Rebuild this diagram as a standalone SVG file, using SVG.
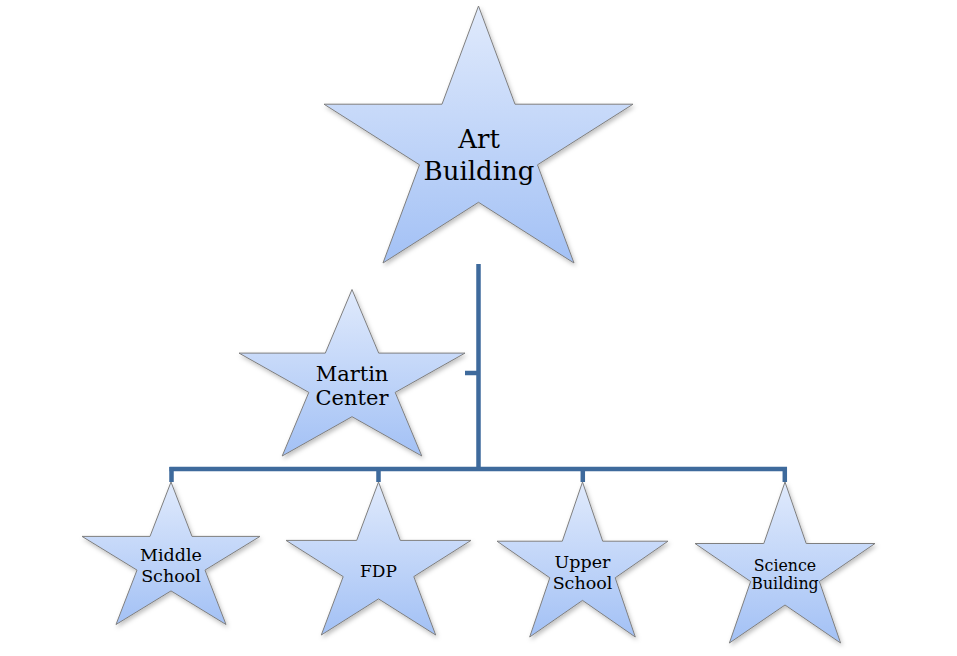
<svg xmlns="http://www.w3.org/2000/svg" width="957" height="656" viewBox="0 0 957 656">
<style>
.star{fill:url(#g);stroke:#7f7f7f;stroke-width:1;filter:url(#sh)}
.lbl{font-family:"DejaVu Serif","Liberation Serif",serif;fill:#000;text-anchor:middle}
.conn{stroke:#3e6a9c;stroke-width:4.5;fill:none;stroke-linecap:butt}
</style>
<defs>
<linearGradient id="g" x1="0" y1="0" x2="0" y2="1">
<stop offset="0" stop-color="#e0eafc"/>
<stop offset="1" stop-color="#a3c1f5"/>
</linearGradient>
<filter id="sh" x="-10%" y="-10%" width="125%" height="125%">
<feDropShadow dx="1.5" dy="2.5" stdDeviation="2" flood-color="#000" flood-opacity="0.25"/>
</filter>
</defs>
<rect width="957" height="656" fill="#fff"/>
<g id="connectors">
<path class="conn" d="M478.5 264 V469.5"/>
<path class="conn" d="M465 373 H478.5"/>
<path class="conn" d="M169.5 469 H787"/>
<path class="conn" d="M171.5 467 V482 M378.5 469 V482 M582.8 469 V482 M784.8 467 V482"/>
</g>
<g id="art-building">
<polygon class="star" points="478.5,6 515,104.2 633,104.2 537.5,164.8 574,263 478.5,202.3 383,263 419.5,164.8 324,104.2 442,104.2"/>
<text class="lbl" font-size="26" x="479" y="148">Art</text>
<text class="lbl" font-size="26" x="479" y="180">Building</text>
</g>
<g id="martin-center">
<polygon class="star" points="352,289.5 378.7,353.1 465,353.1 395.2,392.4 421.8,456 352,416.7 282.2,456 308.8,392.4 239,353.1 325.3,353.1"/>
<text class="lbl" font-size="21" x="352" y="381">Martin</text>
<text class="lbl" font-size="21" x="352" y="405">Center</text>
</g>
<g id="middle-school">
<polygon class="star" points="171,482 192,536.4 260,536.4 205,570.1 226,624.5 171,590.9 116,624.5 137,570.1 82,536.4 150,536.4"/>
<text class="lbl" font-size="17.5" x="171" y="560.5">Middle</text>
<text class="lbl" font-size="17.5" x="171" y="581.5">School</text>
</g>
<g id="fdp">
<polygon class="star" points="378.5,482 400.3,540.4 471,540.4 413.8,576.6 435.7,635 378.5,598.9 321.3,635 343.2,576.6 286,540.4 356.7,540.4"/>
<text class="lbl" font-size="17" x="378.5" y="576.5">FDP</text>
</g>
<g id="upper-school">
<polygon class="star" points="582.5,482 602.7,541.2 668,541.2 615.2,577.8 635.3,637 582.5,600.4 529.7,637 549.8,577.8 497,541.2 562.3,541.2"/>
<text class="lbl" font-size="17.5" x="582.5" y="568.3">Upper</text>
<text class="lbl" font-size="17.5" x="582.5" y="589">School</text>
</g>
<g id="science-building">
<polygon class="star" points="785,482 806.2,543.5 875,543.5 819.4,581.5 840.6,643 785,605 729.4,643 750.6,581.5 695,543.5 763.8,543.5"/>
<text class="lbl" font-size="15.8" x="785" y="570.7">Science</text>
<text class="lbl" font-size="15.8" x="785" y="589.3">Building</text>
</g>
</svg>
